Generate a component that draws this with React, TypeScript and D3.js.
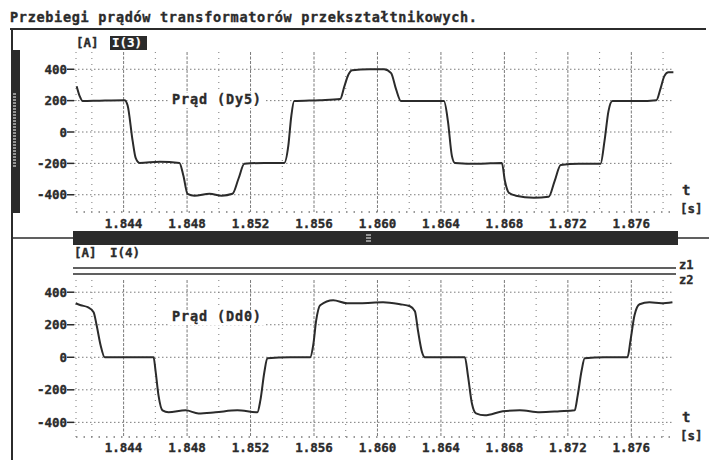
import React from 'react'
import * as d3 from 'd3'

const W = 709
const H = 460
const FONT = '"DejaVu Sans Mono", "Liberation Mono", monospace'
const INK = '#2b2b2b'
const GRID = '#7a7a7a'

// time axis (s)
const timeTicks = [1.844, 1.848, 1.852, 1.856, 1.86, 1.864, 1.868, 1.872, 1.876]
const timeTickLabels = ['1.844', '1.848', '1.852', '1.856', '1.860', '1.864', '1.868', '1.872', '1.876']
const halfGrid = [1.842, 1.846, 1.85, 1.854, 1.858, 1.862, 1.866, 1.87, 1.874, 1.878]
const currentTicks = [400, 200, 0, -200, -400]

// I(3) - Prąd (Dy5)
const t3 = [
  1.84104, 1.84123, 1.84142, 1.8425, 1.84406, 1.84425, 1.84457, 1.84476, 1.84501, 1.84628,
  1.84752, 1.84777, 1.84803, 1.84847, 1.84942, 1.85018, 1.85086, 1.85124, 1.85161, 1.85287,
  1.85413, 1.85438, 1.85457, 1.85475, 1.85633, 1.85765, 1.8579, 1.85815, 1.85841, 1.85948,
  1.86042, 1.86086, 1.86117, 1.86148, 1.86293, 1.86419, 1.86444, 1.86469, 1.86488, 1.86639,
  1.86784, 1.86803, 1.86828, 1.86872, 1.86986, 1.87079, 1.87117, 1.87155, 1.8727, 1.87406,
  1.87431, 1.87456, 1.87481, 1.87645, 1.87758, 1.87783, 1.87808, 1.87834, 1.87865,
]
const i3 = [
  292, 229, 197, 200, 203, 171, -57, -165, -197, -190,
  -197, -279, -394, -406, -394, -406, -394, -298, -203, -197,
  -197, -89, 102, 197, 203, 210, 286, 362, 394, 400,
  400, 375, 273, 197, 197, 197, 70, -152, -197, -203,
  -197, -311, -387, -406, -419, -413, -311, -210, -203, -203,
  -57, 133, 197, 197, 203, 273, 356, 381, 381,
]

// I(4) - Prąd (Dd0)
const t4 = [
  1.84098, 1.8413, 1.84174, 1.84211, 1.8423, 1.84255, 1.84281, 1.84444, 1.84589, 1.84601,
  1.8462, 1.84645, 1.84683, 1.84791, 1.84872, 1.84979, 1.85117, 1.85243, 1.85262, 1.85287,
  1.85306, 1.8545, 1.85576, 1.85595, 1.85614, 1.85639, 1.85721, 1.85809, 1.85891, 1.86035,
  1.86142, 1.86205, 1.86236, 1.86255, 1.86281, 1.86299, 1.86425, 1.86551, 1.8657, 1.86595,
  1.86621, 1.86677, 1.8679, 1.86897, 1.87023, 1.87148, 1.87243, 1.87262, 1.87287, 1.87306,
  1.87431, 1.87576, 1.87595, 1.8762, 1.87652, 1.87714, 1.87789, 1.87859,
]
const i4 = [
  332, 320, 308, 277, 197, 74, 0, 0, 0, -80,
  -234, -326, -338, -326, -345, -338, -326, -338, -265, -92,
  -6, 0, 0, 74, 228, 320, 351, 332, 332, 338,
  326, 314, 283, 166, 31, 0, 0, 0, -111, -283,
  -345, -357, -332, -326, -338, -332, -326, -234, -80, -6,
  0, 0, 105, 258, 326, 338, 332, 338,
]

const x = d3.scaleLinear().domain([1.841, 1.8785]).range([76, 671])

// bold bitmap-ish text look
const txt = {fontFamily: FONT, fontWeight: 'bold' as const, fill: INK, stroke: INK, strokeWidth: 0.35}

type PlotProps = {
  yDomain: [number, number]
  yRange: [number, number]
  ts: number[]
  vals: number[]
  label: string
  labelY: number
  tickY: number
}

function Plot({yDomain, yRange, ts, vals, label, labelY, tickY}: PlotProps) {
  const y = d3.scaleLinear().domain(yDomain).range(yRange)
  const [yb, yt] = yRange
  const line = d3
    .line<number>()
    .x((_, k) => x(ts[k]))
    .y(d => y(d))
    .curve(d3.curveMonotoneX)
  const xl = x.range()[0]
  const xr = x.range()[1] + 1

  return (
    <g>
      {/* vertical grid */}
      <line x1={xl} x2={xl} y1={yt} y2={yb} stroke={GRID} strokeDasharray="1,5" />
      {halfGrid.map(t => (
        <line key={'h' + t} x1={x(t)} x2={x(t)} y1={yt} y2={yb} stroke={GRID} strokeDasharray="1,5" />
      ))}
      {timeTicks.map(t => (
        <line key={'m' + t} x1={x(t)} x2={x(t)} y1={yt} y2={yb} stroke={GRID} strokeDasharray="3,1.5" />
      ))}
      {/* horizontal grid */}
      {currentTicks.map(v => (
        <line key={'g' + v} x1={xl - 2} x2={xr} y1={y(v)} y2={y(v)} stroke={GRID} strokeDasharray="1.5,2.5" />
      ))}
      <line x1={xl} x2={xr} y1={yb} y2={yb} stroke={GRID} strokeWidth={1.5} strokeDasharray="1.5,6" />

      {/* y labels */}
      {currentTicks.map(v => (
        <g key={'y' + v}>
          <text x={67} y={y(v) + 4.5} textAnchor="end" fontSize={12.5} {...txt}>
            {v}
          </text>
          <line x1={67} x2={74} y1={y(v)} y2={y(v)} stroke={INK} strokeWidth={1.5} />
        </g>
      ))}

      {/* x labels */}
      {timeTicks.map((t, k) => (
        <text key={'x' + t} x={x(t)} y={tickY} textAnchor="middle" fontSize={12.5} {...txt}>
          {timeTickLabels[k]}
        </text>
      ))}
      <text x={682} y={y(-400) + 0} fontSize={14} {...txt}>
        t
      </text>
      <text x={680} y={y(-400) + 18} fontSize={12.5} {...txt}>
        [s]
      </text>

      {/* waveform */}
      <path d={line(vals) || ''} fill="none" stroke={INK} strokeWidth={2} strokeLinejoin="round" />

      {/* curve name */}
      <rect x={170} y={labelY - 11} width={94} height={15} fill="#fff" />
      <text x={172} y={labelY} fontSize={13.5} textLength={89} {...txt}>
        {label}
      </text>
    </g>
  )
}

function ScrollThumb() {
  const ribs = d3.range(94, 169, 3)
  return (
    <g>
      <rect x={13} y={50} width={7} height={42} fill={INK} />
      <rect x={13} y={92} width={7} height={78} fill={INK} />
      {ribs.map(r => (
        <line key={r} x1={13} x2={16} y1={r} y2={r} stroke="#fff" strokeWidth={1} />
      ))}
      <rect x={13} y={170} width={7} height={43} fill={INK} />
    </g>
  )
}

export default function App() {
  return (
    <svg
      width={W}
      height={H}
      style={{position: 'absolute', left: 0, top: 0, background: '#fff'}}
    >
      <rect width={W} height={H} fill="#fff" />
      <text x={10} y={22} fontSize={13.5} textLength={467} {...txt}>
        Przebiegi prądów transformatorów przekształtnikowych.
      </text>
      <line x1={10} x2={706} y1={29} y2={29} stroke={INK} strokeWidth={2} />
      <line x1={12} x2={12} y1={29} y2={H} stroke={INK} strokeWidth={2} />
      <ScrollThumb />

      {/* top panel header */}
      <text x={76} y={47} fontSize={12.5} {...txt}>
        [A]
      </text>
      <rect x={110} y={36} width={37} height={14} fill={INK} />
      <text x={112} y={47} fontSize={12.5} {...txt} fill="#fff" stroke="#fff" strokeWidth={0.2}>
        I(3)
      </text>

      <Plot yDomain={[-510, 510]} yRange={[212, 52]} ts={t3} vals={i3} label="Prąd (Dy5)" labelY={104} tickY={228} />

      {/* separator / horizontal scroll bar */}
      <line x1={12} x2={74} y1={238} y2={238} stroke={INK} strokeWidth={1.5} />
      <rect x={73} y={231} width={605} height={14} fill={INK} />
      <line x1={366} x2={371} y1={235} y2={235} stroke="#fff" strokeWidth={1} />
      <line x1={366} x2={371} y1={238} y2={238} stroke="#fff" strokeWidth={1} />
      <line x1={366} x2={371} y1={241} y2={241} stroke="#fff" strokeWidth={1} />
      <line x1={678} x2={709} y1={238} y2={238} stroke={INK} strokeWidth={1.5} />

      {/* bottom panel header */}
      <text x={74} y={257} fontSize={12.5} {...txt}>
        [A]
      </text>
      <text x={110} y={257} fontSize={12.5} {...txt}>
        I(4)
      </text>
      <line x1={73} x2={676} y1={268} y2={268} stroke={INK} strokeWidth={1.5} />
      <line x1={73} x2={676} y1={274} y2={274} stroke={INK} strokeWidth={1.5} />
      <text x={679} y={269} fontSize={12} {...txt}>
        z1
      </text>
      <text x={679} y={284} fontSize={12} {...txt}>
        z2
      </text>

      <Plot yDomain={[-490, 475]} yRange={[437, 280]} ts={t4} vals={i4} label="Prąd (Dd0)" labelY={321} tickY={452} />
    </svg>
  )
}
